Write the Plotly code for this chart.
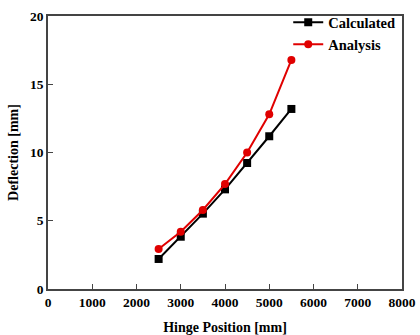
import plotly.graph_objects as go

hinge_position = [2500, 3000, 3500, 4000, 4500, 5000, 5500]
calculated = [2.2, 3.83, 5.52, 7.3, 9.23, 11.19, 13.19]
analysis = [2.93, 4.2, 5.79, 7.69, 10.0, 12.8, 16.78]

font_family = "Liberation Serif"

fig = go.Figure()
fig.add_trace(go.Scatter(x=hinge_position, y=calculated, mode="lines+markers",
                         name="<b>Calculated</b>",
                         line=dict(color="black", width=2),
                         marker=dict(symbol="square", size=8, color="black")))
fig.add_trace(go.Scatter(x=hinge_position, y=analysis, mode="lines+markers",
                         name="<b>Analysis</b>",
                         line=dict(color="#e00000", width=2),
                         marker=dict(symbol="circle", size=8, color="#e00000")))

axis_common = dict(showline=True, linecolor="#444", linewidth=1.5, mirror=True,
                   ticks="inside", ticklen=5, tickcolor="#444", showgrid=False,
                   zeroline=False, automargin=False,
                   tickfont=dict(family=font_family, size=13.5, color="black", weight="bold"))

fig.update_layout(
    width=420, height=335,
    margin=dict(l=48, r=18, t=16, b=46, autoexpand=False),
    plot_bgcolor="white", paper_bgcolor="white",
    showlegend=True,
    legend=dict(x=0.995, y=1.035, xanchor="right", yanchor="top",
                bgcolor="rgba(0,0,0,0)",
                font=dict(family=font_family, size=14.5, color="black"),
                itemwidth=30, tracegroupgap=0),
    xaxis=dict(range=[0, 8000], tickvals=[0, 1000, 2000, 3000, 4000, 5000, 6000, 7000, 8000],
               title=dict(text="<b>Hinge Position [mm]</b>",
                          font=dict(family=font_family, size=14, color="black"), standoff=14),
               **axis_common),
    yaxis=dict(range=[0, 20], tickvals=[0, 5, 10, 15, 20],
               title=dict(text="<b>Deflection [mm]</b>",
                          font=dict(family=font_family, size=14, color="black"), standoff=8),
               **axis_common),
)

fig.write_html("out.html")
